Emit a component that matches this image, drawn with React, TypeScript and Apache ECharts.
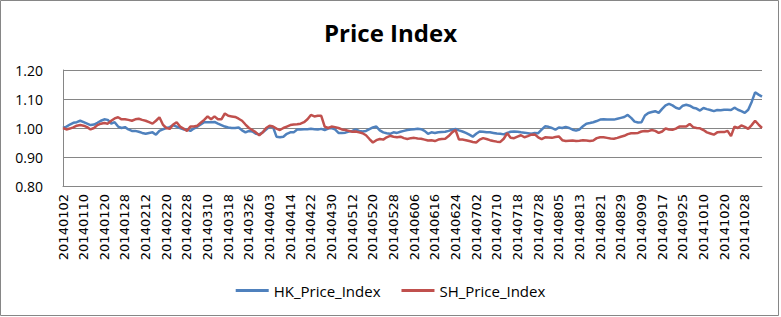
import React, { useEffect, useRef } from "react";
import * as echarts from "echarts";

// Trading days (Shanghai calendar), 2014, by month
const tradingDays: [string, number[]][] = [
  ["01", [2, 3, 6, 7, 8, 9, 10, 13, 14, 15, 16, 17, 20, 21, 22, 23, 24, 27, 28, 29, 30]],
  ["02", [7, 10, 11, 12, 13, 14, 17, 18, 19, 20, 21, 24, 25, 26, 27, 28]],
  ["03", [3, 4, 5, 6, 7, 10, 11, 12, 13, 14, 17, 18, 19, 20, 21, 24, 25, 26, 27, 28, 31]],
  ["04", [1, 2, 3, 4, 8, 9, 10, 11, 14, 15, 16, 17, 18, 21, 22, 23, 24, 25, 28, 29, 30]],
  ["05", [5, 6, 7, 8, 9, 12, 13, 14, 15, 16, 19, 20, 21, 22, 23, 26, 27, 28, 29, 30]],
  ["06", [3, 4, 5, 6, 9, 10, 11, 12, 13, 16, 17, 18, 19, 20, 23, 24, 25, 26, 27, 30]],
  ["07", [1, 2, 3, 4, 7, 8, 9, 10, 11, 14, 15, 16, 17, 18, 21, 22, 23, 24, 25, 28, 29, 30, 31]],
  ["08", [1, 4, 5, 6, 7, 8, 11, 12, 13, 14, 15, 18, 19, 20, 21, 22, 25, 26, 27, 28, 29]],
  ["09", [1, 2, 3, 4, 5, 9, 10, 11, 12, 15, 16, 17, 18, 19, 22, 23, 24, 25, 26, 29, 30]],
  ["10", [8, 9, 10, 13, 14, 15, 16, 17, 20, 21, 22, 23, 24, 27, 28, 29, 30, 31]],
  ["11", [3, 4]],
];

const categories: string[] = tradingDays.flatMap(([m, days]) =>
  days.map((d) => "2014" + m + String(d).padStart(2, "0"))
);

const hkPriceIndex = [
  1.000, 1.005, 1.012, 1.018, 1.020, 1.025, 1.020, 1.015, 1.010, 1.012,
  1.018, 1.025, 1.030, 1.028, 1.015, 1.020, 1.005, 1.000, 1.003, 0.995,
  0.990, 0.990, 0.987, 0.983, 0.980, 0.983, 0.985, 0.977, 0.990, 0.995,
  1.000, 1.003, 1.010, 1.005, 1.000, 0.995, 0.995, 0.990, 0.998, 1.005,
  1.012, 1.020, 1.020, 1.020, 1.021, 1.015, 1.010, 1.005, 1.002, 1.000,
  1.000, 1.002, 0.992, 0.985, 0.990, 0.988, 0.980, 0.978, 0.985, 0.995,
  1.005, 1.003, 0.970, 0.968, 0.970, 0.980, 0.985, 0.985, 0.995, 0.995,
  0.996, 0.996, 0.997, 0.996, 0.995, 0.997, 0.993, 0.998, 1.000, 0.995,
  0.983, 0.983, 0.984, 0.988, 0.990, 0.995, 0.990, 0.988, 0.990, 0.996,
  1.002, 1.005, 0.992, 0.985, 0.982, 0.980, 0.985, 0.983, 0.987, 0.990,
  0.993, 0.995, 0.996, 0.997, 0.996, 0.990, 0.980, 0.985, 0.983, 0.985,
  0.986, 0.987, 0.990, 0.994, 0.997, 0.992, 0.988, 0.983, 0.977, 0.970,
  0.980, 0.988, 0.987, 0.985, 0.985, 0.983, 0.981, 0.980, 0.978, 0.983,
  0.987, 0.988, 0.987, 0.985, 0.984, 0.982, 0.980, 0.983, 0.982, 0.994,
  1.006, 1.004, 1.000, 0.994, 1.002, 1.000, 1.004, 1.000, 0.994, 0.991,
  0.995, 1.006, 1.015, 1.017, 1.020, 1.024, 1.029, 1.030, 1.029, 1.029,
  1.029, 1.032, 1.035, 1.038, 1.045, 1.035, 1.022, 1.019, 1.020, 1.043,
  1.052, 1.055, 1.058, 1.052, 1.066, 1.078, 1.083, 1.078, 1.070, 1.066,
  1.077, 1.080, 1.077, 1.070, 1.067, 1.060, 1.069, 1.065, 1.062, 1.058,
  1.062, 1.061, 1.063, 1.063, 1.062, 1.070, 1.063, 1.058, 1.052, 1.063,
  1.090, 1.123, 1.115, 1.108,
];

const shPriceIndex = [
  1.000, 0.995, 0.998, 1.002, 1.008, 1.010, 1.008, 1.003, 0.995, 1.000,
  1.010, 1.015, 1.017, 1.015, 1.025, 1.033, 1.037, 1.030, 1.030, 1.028,
  1.025, 1.030, 1.032, 1.028, 1.025, 1.020, 1.015, 1.025, 1.037, 1.012,
  1.000, 0.997, 1.012, 1.020, 1.005, 0.998, 0.990, 1.005, 1.005, 1.008,
  1.018, 1.028, 1.040, 1.030, 1.040, 1.030, 1.030, 1.050, 1.042, 1.040,
  1.038, 1.032, 1.025, 1.012, 1.000, 0.993, 0.985, 0.975, 0.985, 1.000,
  1.008, 1.005, 0.998, 0.993, 1.000, 1.005, 1.010, 1.012, 1.013, 1.015,
  1.020, 1.030, 1.045, 1.040, 1.042, 1.042, 1.005, 1.000, 1.005, 1.003,
  1.000, 0.995, 0.993, 0.990, 0.987, 0.988, 0.985, 0.982, 0.975, 0.962,
  0.950, 0.958, 0.962, 0.960, 0.968, 0.973, 0.970, 0.968, 0.970, 0.965,
  0.962, 0.965, 0.966, 0.964, 0.963, 0.960, 0.957, 0.958, 0.955, 0.960,
  0.962, 0.963, 0.972, 0.985, 0.993, 0.960, 0.960, 0.958, 0.955, 0.952,
  0.950, 0.960, 0.965, 0.962, 0.958, 0.955, 0.953, 0.952, 0.963, 0.982,
  0.966, 0.965, 0.970, 0.975, 0.968, 0.972, 0.977, 0.978, 0.968, 0.962,
  0.968, 0.967, 0.966, 0.969, 0.971, 0.958, 0.955, 0.956, 0.957, 0.955,
  0.956, 0.958, 0.957, 0.955, 0.957, 0.965, 0.968, 0.968, 0.966, 0.964,
  0.963, 0.966, 0.970, 0.973, 0.979, 0.982, 0.982, 0.983, 0.988, 0.990,
  0.989, 0.993, 0.990, 0.983, 0.988, 0.998, 0.995, 0.994, 0.998, 1.005,
  1.005, 1.005, 1.014, 1.003, 1.000, 0.999, 0.993, 0.985, 0.981, 0.977,
  0.985, 0.986, 0.986, 0.990, 0.972, 1.005, 1.000, 1.009, 1.004, 0.997,
  1.010, 1.025, 1.012, 1.000,
];

const seriesNames = ["HK_Price_Index", "SH_Price_Index"];
const yMin = 0.8;
const yMax = 1.2;
const yInterval = 0.1;

export default function App() {
  const ref = useRef<HTMLDivElement>(null);

  useEffect(() => {
    if (!ref.current) return;
    const chart = echarts.init(ref.current, undefined, { renderer: "svg" });
    const grid = "#868686";
    chart.setOption({
      animation: false,
      backgroundColor: "#ffffff",
      title: {
        text: "Price Index",
        left: "center",
        top: 15,
        textStyle: {
          fontFamily: "Open Sans",
          fontWeight: "bold",
          fontSize: 24,
          color: "#000",
        },
      },
      legend: {
        top: 278,
        left: "center",
        icon: "rect",
        itemWidth: 33,
        itemHeight: 3,
        itemGap: 21,
        textStyle: { fontFamily: "Open Sans", fontSize: 15, color: "#000" },
        data: seriesNames,
      },
      graphic: [
        {
          type: "rect",
          shape: { x: 0.5, y: 0.5, width: 778, height: 315 },
          style: { fill: "none", stroke: grid, lineWidth: 1 },
          silent: true,
        },
      ],
      grid: { left: 63, right: 19, top: 70, bottom: 131, containLabel: false },
      xAxis: {
        type: "category",
        data: categories,
        boundaryGap: false,
        axisLine: { show: true, lineStyle: { color: grid, width: 1 } },
        axisTick: { show: false },
        axisLabel: {
          interval: 5,
          rotate: 90,
          margin: 8,
          fontFamily: "DejaVu Sans",
          fontSize: 13,
          color: "#000",
        },
        splitLine: { show: false },
      },
      yAxis: {
        type: "value",
        min: yMin,
        max: yMax,
        interval: yInterval,
        axisLine: { show: true, lineStyle: { color: grid, width: 1 } },
        axisTick: { show: false },
        axisLabel: {
          margin: 20,
          fontFamily: "Open Sans",
          fontSize: 14,
          color: "#000",
          formatter: (v: number) => v.toFixed(2),
        },
        splitLine: { show: true, lineStyle: { color: grid, width: 1 } },
      },
      series: [
        {
          name: seriesNames[0],
          type: "line",
          data: hkPriceIndex,
          symbol: "none",
          color: "#4F81BD",
          lineStyle: { width: 2.5, color: "#4F81BD" },
        },
        {
          name: seriesNames[1],
          type: "line",
          data: shPriceIndex,
          symbol: "none",
          color: "#C0504D",
          lineStyle: { width: 2.5, color: "#C0504D" },
        },
      ],
    });
    return () => chart.dispose();
  }, []);

  return (
    <div
      ref={ref}
      style={{ position: "fixed", left: 0, top: 0, width: 781, height: 317 }}
    />
  );
}
